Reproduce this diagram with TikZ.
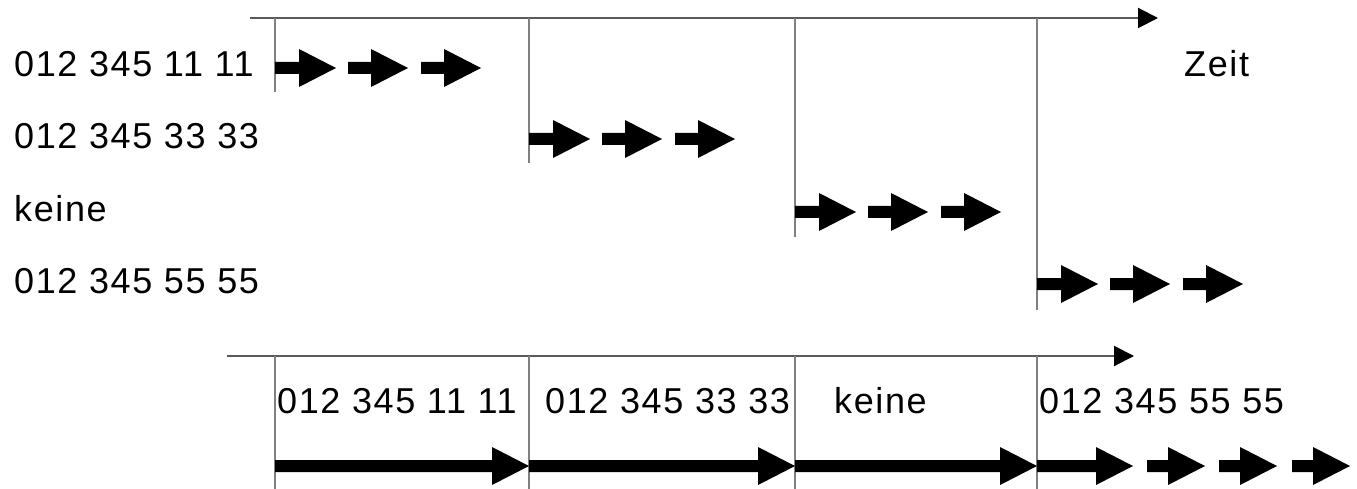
\documentclass[tikz,border=0pt]{standalone}
\usepackage{fontspec}
\setmainfont{Liberation Sans}[LetterSpace=4.5]
\usetikzlibrary{arrows.meta}
\newcommand\blkarrow[3]{% start x, tip x, y
  \fill[black] (#1,{#3-6}) -- ({#2-37},{#3-6}) -- ({#2-37},{#3-19}) -- (#2,#3)
    -- ({#2-37},{#3+19}) -- ({#2-37},{#3+6}) -- (#1,{#3+6}) -- cycle;}
\tikzset{
  axis/.style={line width=2pt, draw=black!65, -{Triangle[length=20pt,width=20pt,color=black]}},
  tick/.style={line width=1.5pt, draw=black!50},
  lbl/.style={anchor=base west, inner sep=0pt, font=\fontsize{36}{40}\selectfont}
}
\begin{document}
\begin{tikzpicture}[x=1pt,y=-1pt]
\useasboundingbox (0,0) rectangle (1357,489);
% top axis
\coordinate (ta0) at (250,18);
\coordinate (ta1) at (1158,18);
\draw[axis] (ta0) -- (ta1);
\foreach \x/\e/\n in {275/92/a,529/163/b,795/237/c,1037/310/d}{
  \coordinate (t\n0) at (\x,18);
  \coordinate (t\n1) at (\x,\e);
  \draw[tick] (t\n0) -- (t\n1);
}
% row labels
\node[lbl] (r1) at (14,77) {012 345 11 11};
\node[lbl] (r2) at (14,149) {012 345 33 33};
\node[lbl] (r3) at (14,222) {keine};
\node[lbl] (r4) at (14,293) {012 345 55 55};
\node[lbl] (zeit) at (1184,77) {Zeit};
% row arrows
\foreach \x/\y in {275/68,529/139,795/212,1037/284}{
  \blkarrow{\x}{\x+61}{\y}
  \blkarrow{\x+73}{\x+133}{\y}
  \blkarrow{\x+146}{\x+206}{\y}
}
% bottom axis
\coordinate (ba0) at (227,356);
\coordinate (ba1) at (1134,356);
\draw[axis] (ba0) -- (ba1);
\foreach \x/\n in {275/a,529/b,795/c,1037/d}{
  \coordinate (b\n0) at (\x,356);
  \coordinate (b\n1) at (\x,489);
  \draw[tick] (b\n0) -- (b\n1);
}
\node[lbl] (s1) at (277,413) {012 345 11 11};
\node[lbl] (s2) at (545,413) {012 345 33 33};
\node[lbl] (s3) at (834,413) {keine};
\node[lbl] (s4) at (1039,413) {012 345 55 55};
% bottom arrows
\blkarrow{275}{529}{466}
\blkarrow{529}{795}{466}
\blkarrow{795}{1037}{466}
\blkarrow{1037}{1133}{466}
\blkarrow{1147}{1205}{466}
\blkarrow{1219}{1277}{466}
\blkarrow{1292}{1350}{466}
\end{tikzpicture}
\end{document}
